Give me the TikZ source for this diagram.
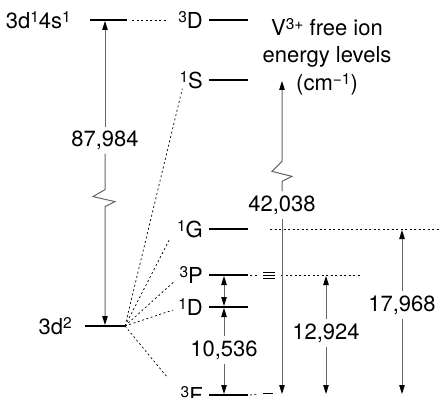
\documentclass[tikz,border=0pt]{standalone}
\usepackage{fontspec}
\setmainfont{TeX Gyre Heros}
\usetikzlibrary{positioning, calc, arrows.meta}

\newcommand{\up}[1]{\raisebox{5.5pt}{\fontsize{15.5}{15.5}\selectfont #1}}

\begin{document}
\begin{tikzpicture}[
  x=1pt, y=-1pt, % pixel grid, y runs down
  every node/.style={font=\fontsize{22}{27.5}\selectfont, inner sep=0pt},
  level/.style={line width=1.6pt},
  link/.style={dash pattern=on 2pt off 2.5pt, line width=0.7pt},
  gap/.style={draw=black!60, line width=1pt, shorten >=1pt, shorten <=1pt},
  tip/.style={-{Triangle[length=9pt, width=5.5pt, black]}},
  tips/.style={{Triangle[length=9pt, width=5.5pt, black]}-{Triangle[length=9pt, width=5.5pt, black]}},
]
  \useasboundingbox (0,0) rectangle (441,398);

  % configurations
  \coordinate (sp-w) at (90,20);
  \coordinate (sp-e) at (127,20);
  \coordinate (dd-w) at (85,326);
  \coordinate (dd-e) at (125,326);
  \draw[level] (sp-w) -- (sp-e);
  \draw[level] (dd-w) -- (dd-e);
  \node[left=19pt of sp-w] (sp) {3d\up{1}4s\up{1}};
  \node[left=13pt of dd-w] (dd) {3d\up{2}};

  % free ion terms
  \foreach \n/\y/\s/\t in {3D/20/3/D, 1S/80/1/S, 1G/229/1/G, 3P/275/3/P, 1D/307/1/D, 3F/395/3/F}{
    \coordinate (\n-w) at (209,\y);
    \coordinate (\n-e) at (248,\y);
    \draw[level] (\n-w) -- (\n-e);
    \node[left=6pt of \n-w] (\n) {\up{\s}\t};
  }

  %% title
  \node[align=center] (title) at (327,57) {V\up{3+} free ion\\energy levels\\(cm\up{−1})};

  % correlation lines
  \draw[link] ($(sp-e)+(5,0)$) -- ($(3D.west)+(-12,0)$);
  \draw[link] (dd-e) -- ($(1S.south west)+(3,0)$);
  \draw[link] (dd-e) -- ($(1G.south west)+(-7,1)$);
  \draw[link] (dd-e) -- ($(3P.south west)+(-5,-2)$);
  \draw[link] (dd-e) -- ($(1D.west)+(-5,3)$);
  \draw[link] (dd-e) -- ($(3F.north west)+(-13,-9)$);

  %% reference lines to the right
  \coordinate (1G-far) at (441,229);
  \coordinate (3P-far) at (362,275);
  \draw[link] ($(1G-e)+(22,0)$) -- (1G-far);
  \draw[link] ($(3P-e)+(2,0)$) -- ++(8,0);
  \foreach \dy in {-3,0,3}
    \draw[line width=0.5pt] ($(3P-e)+(15,\dy)$) -- ++(12,0);
  \draw[link] ($(3P-e)+(33,0)$) -- (3P-far);
  \draw[link] ($(3F-e)+(2,0)$) -- ++(8,-1);
  \draw[line width=0.5pt] ($(3F-e)+(15,-2)$) -- ++(10,0);

  % energy gaps
  \node (gA) at (105,140) {87,984};
  \draw[gap, tip] ([yshift=2pt]gA.north) -- (gA.north |- sp-e);
  \draw[gap, tip] ([yshift=-3pt]gA.south) -- ++(0,37) -- ++(-12,7) -- ++(22,5)
    -- ++(-10,5) -- (gA.south |- dd-e);

  \node (gB) at (282,205) {42,038};
  \draw[gap, tip] ([yshift=3pt]gB.north) -- ++(0,-11) -- ++(10,-5) -- ++(-20,-5)
    -- ++(10,-10) -- (gB.north |- 1S-e);
  \draw[gap, tip] ([yshift=-3pt]gB.south) -- (gB.south |- 3F-e);

  \node (gC) at (326,333) {12,924};
  \draw[gap, tip] ([yshift=3pt]gC.north) -- (gC.north |- 3P-e);
  \draw[gap, tip] ([yshift=-3pt]gC.south) -- (gC.south |- 3F-e);

  \node (gD) at (402,305) {17,968};
  \draw[gap, tip] ([yshift=3pt]gD.north) -- (gD.north |- 1G-e);
  \draw[gap, tip] ([yshift=-3pt]gD.south) -- (gD.south |- 3F-e);

  \node (gE) at (224,350) {10,536};
  \draw[gap, tips] (gE.north |- 3P-e) -- (gE.north |- 1D-e);
  \draw[gap, tip] ([yshift=3pt]gE.north) -- (gE.north |- 1D-e);
  \draw[gap, tip] ([yshift=-3pt]gE.south) -- (gE.south |- 3F-e);

\end{tikzpicture}
\end{document}
